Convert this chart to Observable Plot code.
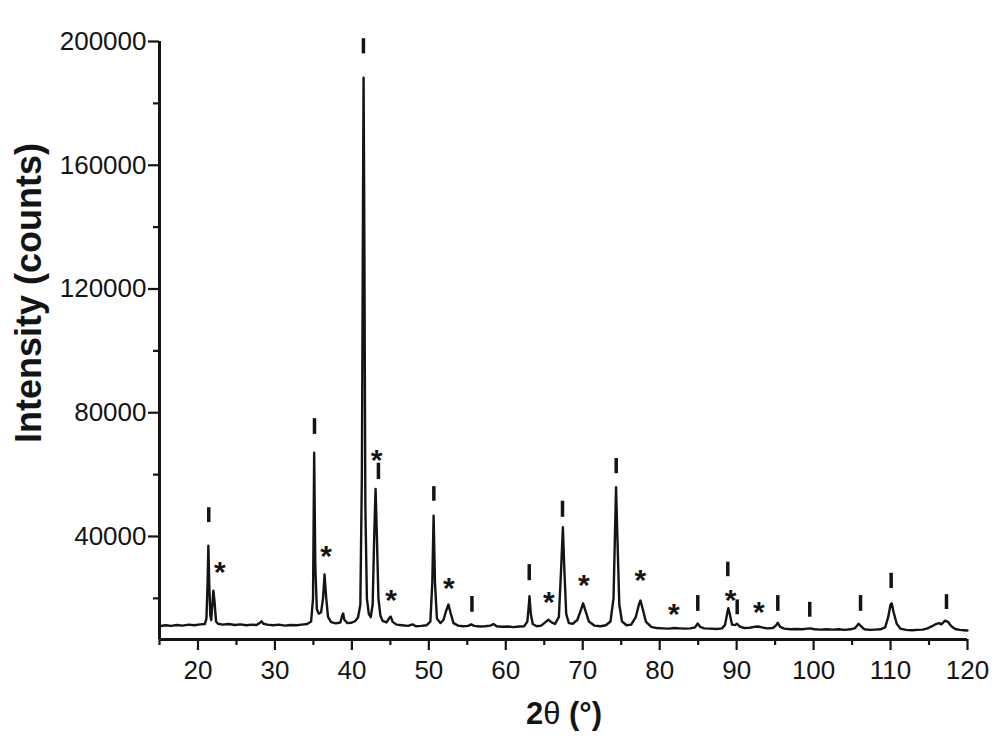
<!DOCTYPE html>
<html><head><meta charset="utf-8">
<script src="https://cdn.jsdelivr.net/npm/d3@7"></script>
<script src="https://cdn.jsdelivr.net/npm/@observablehq/plot@0.6"></script>
<style>body{margin:0;background:#fff}</style>
</head><body><div id="chart"></div>
<script>
// XRD pattern: 2θ (°) and intensity (counts)
const twoTheta = [15.0,15.8,16.5,17.3,18.0,18.8,19.5,20.3,20.9,21.1,21.25,21.35,21.45,21.6,21.72,21.9,22.0,22.15,22.35,22.6,23.2,24.0,24.8,25.5,26.3,27.0,27.6,28.0,28.25,28.5,29.0,29.8,30.5,31.3,32.0,32.8,33.5,34.2,34.7,34.95,35.1,35.25,35.45,35.7,36.0,36.25,36.45,36.65,36.9,37.3,37.9,38.5,38.75,38.87,39.0,39.4,39.9,40.4,40.8,41.1,41.3,41.45,41.52,41.6,41.75,41.95,42.2,42.45,42.7,42.9,43.08,43.25,43.45,43.7,44.0,44.5,44.85,45.05,45.3,45.8,46.5,47.3,47.9,48.3,49.0,49.7,50.2,50.45,50.62,50.8,51.05,51.5,51.9,52.25,52.55,52.8,53.2,53.8,54.5,55.1,55.5,55.9,56.6,57.3,58.0,58.4,58.8,59.5,60.3,61.0,61.7,62.4,62.8,63.0,63.08,63.25,63.5,64.0,64.6,65.2,65.55,65.9,66.4,66.9,67.2,67.42,67.6,67.85,68.2,68.7,69.3,69.8,70.05,70.35,70.8,71.5,72.3,73.0,73.6,74.0,74.2,74.33,74.5,74.75,75.1,75.7,76.3,76.9,77.3,77.5,77.75,78.2,78.9,79.6,80.4,81.2,81.9,82.6,83.3,84.0,84.6,84.95,85.25,85.8,86.6,87.4,88.1,88.5,88.8,88.92,89.1,89.4,89.8,90.05,90.4,91.0,91.7,92.3,92.8,93.3,94.0,94.7,95.1,95.35,95.65,96.2,97.0,97.8,98.5,99.2,99.6,100.1,100.9,101.7,102.5,103.3,104.0,104.8,105.4,105.85,106.2,106.6,107.3,108.0,108.7,109.3,109.7,110.0,110.15,110.4,110.8,111.3,112.0,112.8,113.5,114.2,114.8,115.4,115.9,116.3,116.6,117.1,117.5,117.9,118.4,119.0,119.5,120.0];
const counts = [11000,11300,11100,11400,11200,11500,11300,11600,11700,13500,25000,37000,26000,14500,13000,19000,22500,19000,12500,11800,11500,11700,11400,11600,11300,11500,11400,12000,12600,11800,11500,11300,11500,11200,11400,11300,11500,11700,12500,20000,67100,30000,16500,15000,15500,20000,27700,20500,14000,12300,11900,12200,14500,15100,13200,12000,12100,12600,13800,18000,60000,150000,188300,150000,50000,20000,15000,13900,18000,40000,55400,40000,20000,14500,12700,12200,13600,14100,12400,11500,11300,11100,11600,11000,11100,11300,12500,25000,46750,25000,13500,12000,13000,16000,18000,15500,12000,11200,11000,11100,11600,11100,10900,11000,11200,11700,11000,10800,10900,10700,10900,11000,12500,18000,20700,15000,11700,11000,11200,12400,13100,12300,11700,14000,30000,43000,30000,15000,12000,11800,13000,16500,18400,16000,12500,11200,11000,11300,12500,20000,42000,55900,40000,18000,12500,11300,11500,14000,18000,19300,17000,12500,10800,10400,10300,10200,10400,10300,10200,10300,10600,11900,10800,10300,10200,10100,10300,11500,15500,16800,15000,11500,11400,11800,10900,10400,10500,10800,10900,10600,10300,10400,11200,12100,10800,10200,10000,10100,10000,10200,10300,10000,9900,10000,9900,10000,9800,10000,10400,11800,10900,10000,9800,9900,10000,10600,14000,18000,18400,15500,11800,10200,9800,9700,9800,9900,10300,11000,11700,12000,11600,12800,12300,11000,10100,9800,9700,9600];

// Reflection markers "|" : position and vertical extent (counts)
const barX  = [21.4, 35.14, 41.5, 43.45, 50.65, 55.6, 63.05, 67.37, 74.35, 84.95, 88.85, 90.07, 95.35, 99.5, 106.1, 110.08, 117.27];
const barLo = [44500, 73000, 196000, 58400, 51400, 15500, 25700, 46200, 60300, 15800, 27000, 14700, 15800, 13900, 15800, 23200, 16400];
const barHi = [49300, 78100, 200900, 63700, 56100, 20600, 30900, 51400, 65200, 20900, 31700, 19500, 20900, 18700, 20900, 28100, 21200];

// Asterisk markers
const starX = [22.84, 36.66, 43.2, 45.1, 52.6, 65.6, 70.14, 77.5, 81.84, 89.2, 92.88];
const starY = [31100, 36100, 67300, 21950, 25700, 21400, 26800, 28400, 17300, 21950, 17950];

// Ticks
const xMajor = [20, 30, 40, 50, 60, 70, 80, 90, 100, 110, 120];
const xMinor = [15, 25, 35, 45, 55, 65, 75, 85, 95, 105, 115];
const yMajor = [40000, 80000, 120000, 160000, 200000];
const yMinor = [20000, 60000, 100000, 140000, 180000];

const pattern = twoTheta.map((x, i) => ({x, y: counts[i]}));
const bars = barX.map((x, i) => ({x, y1: barLo[i], y2: barHi[i]}));
const stars = starX.map((x, i) => ({x, y: starY[i]}));

const ink = "#141414";
const plot = Plot.plot({
  width: 1003, height: 745,
  marginLeft: 159, marginRight: 36, marginTop: 41, marginBottom: 106,
  style: {fontFamily: "'Liberation Sans', Arial, sans-serif", background: "#fff", color: ink},
  x: {domain: [15, 120]},
  y: {domain: [6700, 200000]},
  marks: [
    Plot.axisX({ticks: xMinor, tickSize: 6, strokeWidth: 2.2, tickFormat: () => "", label: null}),
    Plot.axisX({ticks: xMajor, tickSize: 11, tickPadding: 10, strokeWidth: 2.2, fontSize: 26, tickFormat: d => String(d), label: null}),
    Plot.axisY({ticks: yMinor, tickSize: 6, strokeWidth: 2.2, tickFormat: () => "", label: null}),
    Plot.axisY({ticks: yMajor, tickSize: 11, tickPadding: 2, strokeWidth: 2.2, fontSize: 26, tickFormat: d => String(d), label: null}),
    Plot.ruleX([15], {stroke: ink, strokeWidth: 3}),
    Plot.ruleY([6700], {stroke: ink, strokeWidth: 3}),
    Plot.line(pattern, {x: "x", y: "y", stroke: ink, strokeWidth: 2.4, strokeLinejoin: "round"}),
    Plot.ruleX(bars, {x: "x", y1: "y1", y2: "y2", stroke: ink, strokeWidth: 3.5}),
    Plot.text(stars, {x: "x", y: "y", text: () => "*", fontSize: 30, fontWeight: "bold", fill: ink, dy: 8})
  ]
});

const svg = d3.select(plot);
svg.append("text")
  .attr("transform", "translate(41,293) rotate(-90)")
  .attr("text-anchor", "middle")
  .attr("font-size", 36)
  .attr("font-weight", "bold")
  .attr("fill", ink)
  .text("Intensity (counts)");
const xt = svg.append("text")
  .attr("x", 564).attr("y", 724)
  .attr("text-anchor", "middle")
  .attr("font-size", 31)
  .attr("font-weight", "bold")
  .attr("fill", ink);
xt.append("tspan").text("2");
xt.append("tspan").attr("font-weight", "normal").text("θ");
xt.append("tspan").text(" (°)");

document.getElementById("chart").append(plot);
</script>
</body></html>
